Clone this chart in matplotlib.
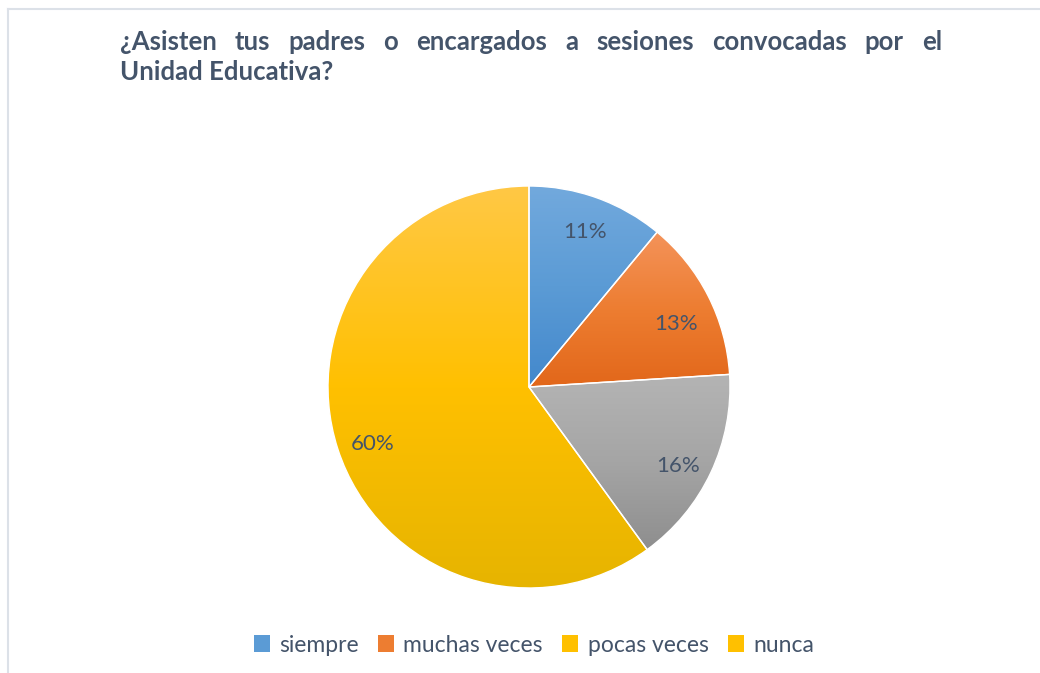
import numpy as np
import matplotlib
matplotlib.use("Agg")
import matplotlib.pyplot as plt
from matplotlib.colors import LinearSegmentedColormap
from matplotlib.lines import Line2D
from matplotlib.patches import Patch

plt.rcParams['font.family'] = ['Lato', 'DejaVu Sans']

# data
categories = ["siempre", "muchas veces", "pocas veces", "nunca"]
values = [11, 13, 16, 60]
title_line1 = "¿Asisten tus padres o encargados a sesiones convocadas por el"
title_line2 = "Unidad Educativa?"

# styles: (top, middle, bottom colour) per slice
grad_colors = [("#72A9DD", "#5B9BD5", "#4388CC"),
               ("#F4935A", "#ED7D31", "#E2671A"),
               ("#B4B4B4", "#A5A5A5", "#8E8E8E"),
               ("#FFC845", "#FFC000", "#E6B400")]
legend_colors = ["#5B9BD5", "#ED7D31", "#FFC000", "#FFC000"]
label_nudge = [0, -0.06, -0.045, -0.03]  # small vertical label shifts
text_color = "#44546A"

W, H = 1040, 673
fig = plt.figure(figsize=(W / 100, H / 100), dpi=100)
fig.patch.set_facecolor("white")

# frame lines (top and left)
fig.add_artist(Line2D([8 / W, 1], [1 - 9 / H, 1 - 9 / H], color="#DCE1E8", lw=1.5))
fig.add_artist(Line2D([8 / W, 8 / W], [0, 1 - 9 / H], color="#DCE1E8", lw=1.5))

# pie axes
cx, cy, r = 529, 387, 203
ax = fig.add_axes([(cx - r) / W, (H - cy - r) / H, 2 * r / W, 2 * r / H])
wedges, texts, autotexts = ax.pie(values, startangle=90, counterclock=False,
                                  colors=[c[1] for c in grad_colors],
                                  autopct="%1.0f%%", pctdistance=0.82,
                                  wedgeprops=dict(edgecolor="white", linewidth=1),
                                  textprops=dict(color=text_color, fontsize=16))

# gradient fill per slice
for w, (c_top, c_mid, c_bot) in zip(wedges, grad_colors):
    v = w.get_path().vertices
    x0, x1 = v[:, 0].min(), v[:, 0].max()
    y0, y1 = v[:, 1].min(), v[:, 1].max()
    cmap = LinearSegmentedColormap.from_list("g", [c_bot, c_mid, c_top])
    grad = np.linspace(0, 1, 256).reshape(-1, 1)
    im = ax.imshow(grad, cmap=cmap, extent=(x0, x1, y0, y1), origin="lower",
                   aspect="auto", zorder=w.get_zorder() + 0.1)
    im.set_clip_path(w)
    w.set_facecolor("none")
    w.set_zorder(w.get_zorder() + 0.2)
for t, dy in zip(autotexts, label_nudge):
    x, y = t.get_position()
    t.set_position((x, y + dy))
    t.set_zorder(5)
ax.set_xlim(-1.01, 1.01)
ax.set_ylim(-1.01, 1.01)

# justified title, line 1
fig.canvas.draw()
renderer = fig.canvas.get_renderer()
words = title_line1.split(" ")
tkw = dict(fontsize=18.5, fontweight="bold", color=text_color, va="baseline")
objs = [fig.text(0, 1 - 50 / H, wd, **tkw) for wd in words]
widths = [o.get_window_extent(renderer).width for o in objs]
x_left, x_right = 120, 942
gap = (x_right - x_left - sum(widths)) / (len(words) - 1)
x = x_left
for o, wdt in zip(objs, widths):
    o.set_x(x / W)
    x += wdt + gap
fig.text(x_left / W, 1 - 80 / H, title_line2, **tkw)

# legend
handles = [Patch(facecolor=c, edgecolor="none") for c in legend_colors]
fig.legend(handles, categories, loc="center", ncol=4,
           bbox_to_anchor=(534 / W, 1 - 645 / H), frameon=False,
           fontsize=16.5, handlelength=0.7, handleheight=0.7,
           handletextpad=0.4, columnspacing=0.85, labelcolor=text_color)

fig.savefig("out.png", dpi=100)
